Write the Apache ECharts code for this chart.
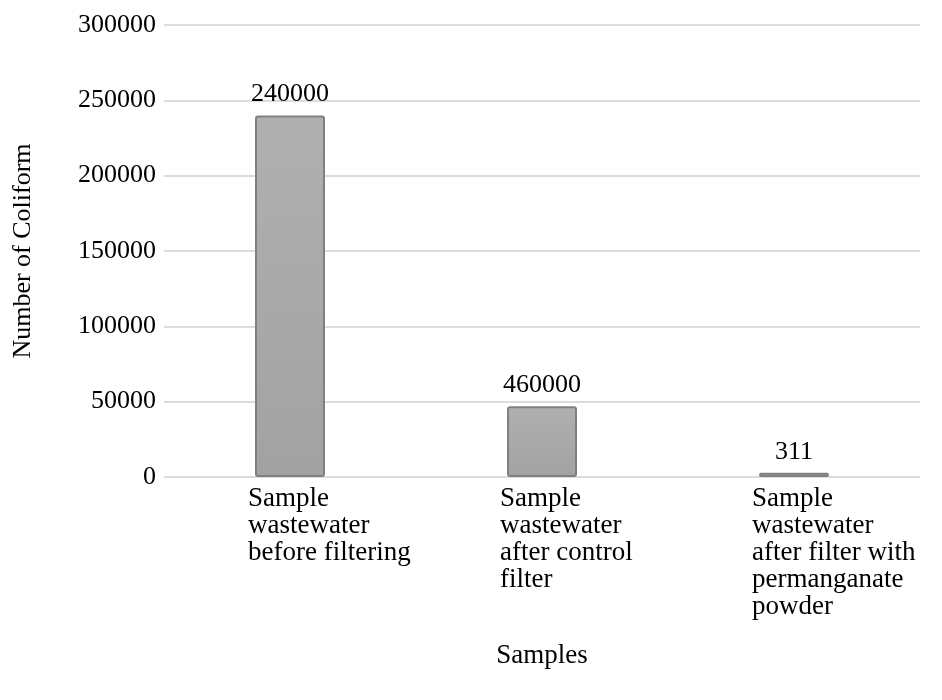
<!DOCTYPE html>
<html>
<head>
<meta charset="utf-8">
<script src="https://cdn.jsdelivr.net/npm/echarts@6/dist/echarts.min.js"></script>
<style>html,body{margin:0;padding:0;background:#fff;}#c{width:942px;height:700px;}</style>
</head>
<body>
<div id="c"></div>
<script>
const categories = [
  "Sample\nwastewater\nbefore filtering",
  "Sample\nwastewater\nafter control\nfilter",
  "Sample\nwastewater\nafter filter with\npermanganate\npowder"
];
const values = [240000, 47000, 2800];
const barLabels = ["240000", "460000", "311"];
const yTicks = { min: 0, max: 300000, interval: 50000 };

const FONT = '"Liberation Serif", "Times New Roman", serif';
const FS = 27;
const chart = echarts.init(document.getElementById('c'));
chart.setOption({
  animation: false,
  backgroundColor: '#fff',
  grid: { left: 164, right: 22, top: 25, bottom: 223, containLabel: false },
  xAxis: {
    type: 'category',
    data: categories,
    name: 'Samples',
    nameLocation: 'middle',
    nameGap: 165,
    nameTextStyle: { fontFamily: FONT, fontSize: FS, color: '#000' },
    axisLine: { show: false },
    axisTick: { show: false },
    axisLabel: {
      interval: 0,
      margin: 8,
      align: 'center',
      formatter: v => '{a|' + v + '}',
      rich: {
        a: { width: 84, align: 'left', fontFamily: FONT, fontSize: FS, lineHeight: 27, color: '#000' }
      }
    }
  },
  yAxis: {
    type: 'value',
    min: yTicks.min,
    max: yTicks.max,
    interval: yTicks.interval,
    name: 'Number of Coliform',
    nameLocation: 'middle',
    nameGap: 128,
    nameRotate: 90,
    nameTextStyle: { fontFamily: FONT, fontSize: FS - 1, color: '#000' },
    axisLine: { show: false },
    axisTick: { show: false },
    axisLabel: { margin: 8, fontFamily: FONT, fontSize: FS - 1, color: '#000', formatter: v => String(v) },
    splitLine: { lineStyle: { color: '#dcdcdc', width: 2 } }
  },
  series: [{
    type: 'bar',
    data: values,
    barWidth: 70,
    itemStyle: {
      color: new echarts.graphic.LinearGradient(0, 0, 0, 1, [
        { offset: 0, color: '#b0b0b0' },
        { offset: 1, color: '#a2a2a2' }
      ]),
      borderColor: '#808080',
      borderWidth: 2,
      borderRadius: 2
    },
    label: {
      show: true,
      position: 'top',
      distance: 8,
      formatter: p => barLabels[p.dataIndex],
      fontFamily: FONT,
      fontSize: FS - 1,
      color: '#000'
    }
  }]
});
</script>
</body>
</html>
